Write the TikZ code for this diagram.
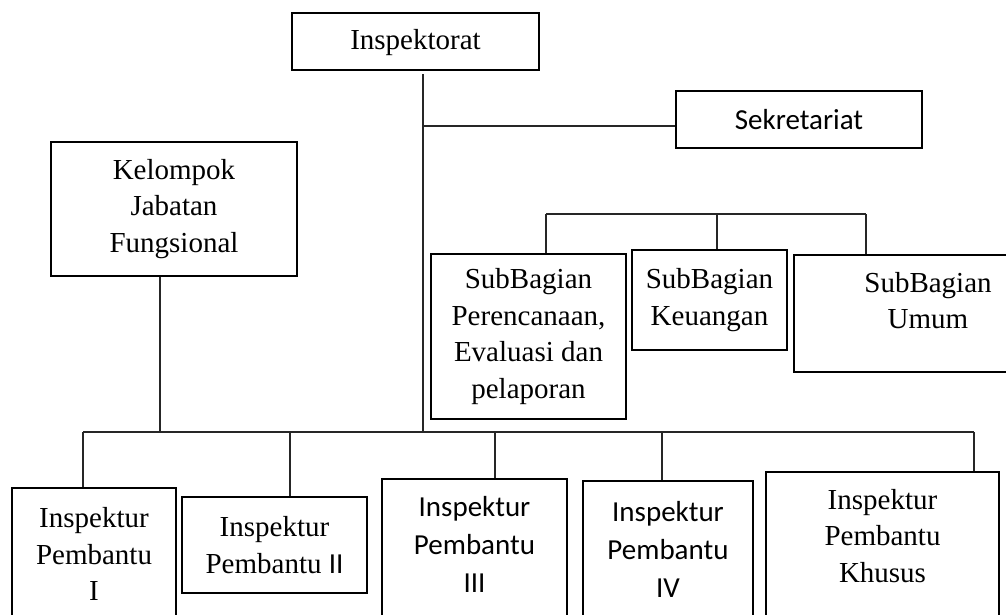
\documentclass[tikz,border=0pt]{standalone}
\usepackage{fontspec}
\setmainfont{Liberation Serif}
\newfontfamily\calibri{Carlito}
\usetikzlibrary{positioning}

\tikzset{
  box/.style={draw,line width=2.6pt,align=center,inner sep=0pt},
  txt/.style={align=center,inner sep=0pt},
  sans/.style={font=\calibri\fontsize{29}{38}\selectfont},
  link/.style={line width=1.2pt,black!85}
}

\begin{document}
\begin{tikzpicture}[x=1pt,y=-1pt,font=\fontsize{29}{36.5}\selectfont]
\useasboundingbox (0,0) rectangle (1006,614);

% top
\node[box,minimum width=247,minimum height=57] (insp) at (415.5,41.5) {};
\node[txt,below=17pt of insp.north] (insptxt) {Inspektorat};
\node[box,sans,minimum width=246,minimum height=57] (sek) at (799,119.5) {Sekretariat};
\node[box,minimum width=246,minimum height=134] (kjf) at (174,209) {Kelompok\\Jabatan\\Fungsional};

% sub bagian
\node[box,minimum width=195,minimum height=165] (pel) at (528.5,336.5) {SubBagian\\Perencanaan,\\Evaluasi dan\\pelaporan};
\node[box,minimum width=155,minimum height=100] (keu) at (709.5,300) {SubBagian\\Keuangan};
\node[box,minimum width=268,minimum height=117] (umum) at (928,313.5) {};
\node[txt,below=18pt of umum.north] (umumtxt) {SubBagian\\Umum};

% inspektur pembantu
\node[box,minimum width=164,minimum height=132] (ip1) at (94,554) {Inspektur\\Pembantu\\I};
\node[box,minimum width=185,minimum height=96] (ip2) at (274.5,545) {Inspektur\\Pembantu {\calibri II}};
\node[box,minimum width=185,minimum height=150] (ip3) at (474.5,554) {};
\node[txt,sans,below=18pt of ip3.north] (ip3txt) {Inspektur\\Pembantu\\III};
\node[box,sans,minimum width=170,minimum height=136] (ip4) at (668,549) {Inspektur\\Pembantu\\IV};
\node[box,minimum width=233,minimum height=150] (ipk) at (882.5,547) {};
\node[txt,below=18pt of ipk.north] (ipktxt) {Inspektur\\Pembantu\\Khusus};

% lines
\coordinate (jsek) at (423,126);
\coordinate (jbus) at (423,432);
\coordinate (sbus) at (700,214);
\draw[link] ([yshift=-3pt]insp.south -| jbus) -- (jbus);
\draw[link] (jsek) -- (jsek -| sek.west);
\draw[link] ([xshift=-14pt]kjf.south) -- ([xshift=-14pt]kjf.south |- jbus);
\draw[link] ([xshift=-11pt]ip1.north |- jbus) -- ([xshift=91.5pt]ipk.north |- jbus);
\foreach \n/\dx in {ip1/-11,ip2/15.5,ip3/20.5,ip4/-6,ipk/91.5}
  \draw[link] ([xshift=\dx pt]\n.north) -- ([xshift=\dx pt]\n.north |- jbus);
\draw[link] ([xshift=17.5pt]pel.north |- sbus) -- ([xshift=-62pt]umum.north |- sbus);
\foreach \n/\dx in {pel/17.5,keu/7.5,umum/-62}
  \draw[link] ([xshift=\dx pt]\n.north) -- ([xshift=\dx pt]\n.north |- sbus);

\end{tikzpicture}
\end{document}
